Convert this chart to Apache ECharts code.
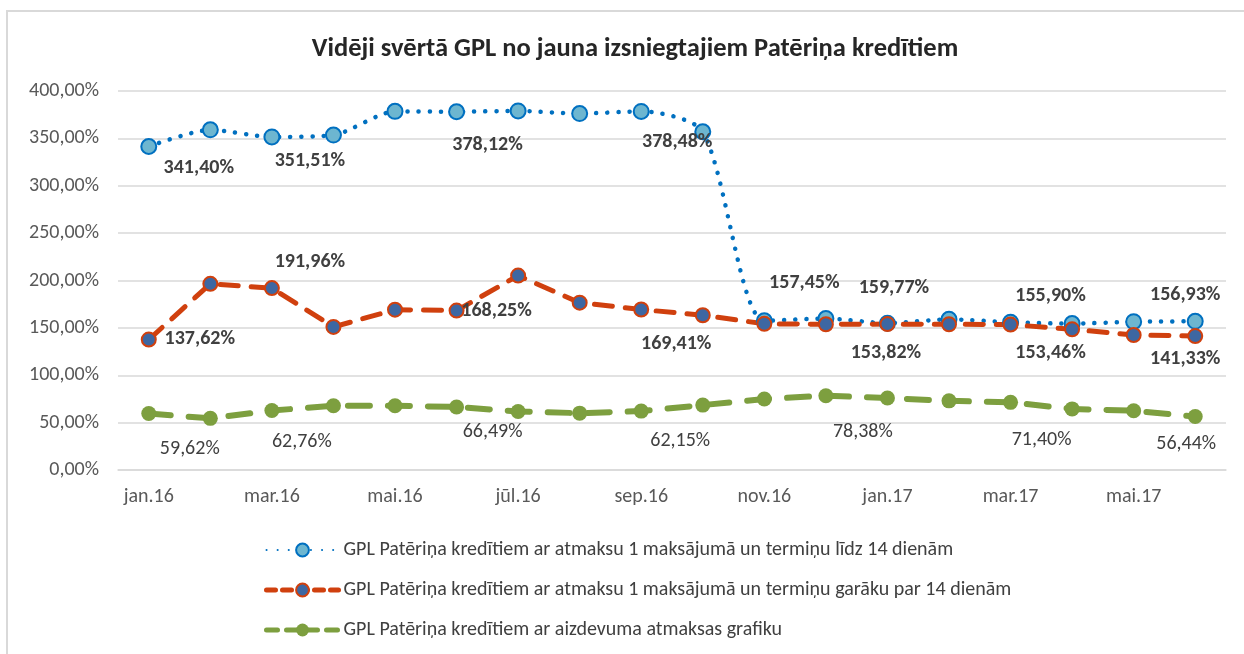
<!DOCTYPE html>
<html>
<head>
<meta charset="utf-8">
<script src="https://cdn.jsdelivr.net/npm/echarts@6/dist/echarts.min.js"></script>
<style>
  html, body { margin: 0; padding: 0; background: #fff; }
  #frame { position: absolute; left: 6px; top: 10px; width: 1240px; height: 650px;
           border-left: 2px solid #d9d9d9; border-top: 2px solid #d9d9d9; }
  #chart { position: absolute; left: 0; top: 0; width: 1244px; height: 654px; }
</style>
</head>
<body>
<div id="frame"></div>
<div id="chart"></div>
<script>
// mēneši
const months = ['jan.16', 'feb.16', 'mar.16', 'apr.16', 'mai.16', 'jūn.16', 'jūl.16', 'aug.16', 'sep.16',
  'okt.16', 'nov.16', 'dec.16', 'jan.17', 'feb.17', 'mar.17', 'apr.17', 'mai.17', 'jūn.17'];

const seriesNames = [
  'GPL Patēriņa kredītiem ar atmaksu 1 maksājumā un termiņu līdz 14 dienām',
  'GPL Patēriņa kredītiem ar atmaksu 1 maksājumā un termiņu garāku par 14 dienām',
  'GPL Patēriņa kredītiem ar aizdevuma atmaksas grafiku'
];

const shortTerm = [341.40, 359.0, 351.51, 353.5, 378.5, 378.12, 379.0, 376.2, 378.48,
  357.0, 157.45, 159.77, 155.0, 159.0, 155.90, 154.5, 156.5, 156.93];
const longTerm = [137.62, 196.5, 191.96, 151.0, 169.2, 168.25, 205.2, 176.6, 169.41,
  163.3, 154.3, 153.82, 154.0, 153.8, 153.46, 148.5, 142.5, 141.33];
const schedule = [59.62, 54.5, 62.76, 67.8, 67.8, 66.49, 61.8, 60.0, 62.15,
  68.5, 75.0, 78.38, 76.0, 73.0, 71.40, 64.5, 62.5, 56.44];

const yTicks = [0, 50, 100, 150, 200, 250, 300, 350, 400];

// kuriem punktiem ir vērtību uzraksti un to nobīde [dx, dy]
const labelOffsets = [
  { 0: [50, 21], 2: [38, 24], 5: [31, 33], 8: [36, 31], 10: [40, -38], 11: [68, -31], 14: [40, -26], 17: [-10, -26] },
  { 0: [51, -1], 2: [38, -26], 5: [40, 0], 8: [35, 35], 11: [60, 29], 14: [40, 28], 17: [-10, 23] },
  { 0: [41, 35], 2: [30, 31], 5: [36, 25], 8: [39, 30], 11: [37, 36], 14: [31, 38], 17: [-9, 27] }
];

const FONT = 'Carlito, Calibri, Lato, sans-serif';
const pct = v => v.toFixed(2).replace('.', ',') + '%';

function buildData(values, offsets, bold) {
  return values.map((v, i) => {
    if (!offsets[i]) return v;
    return {
      value: v,
      label: {
        show: true,
        position: 'inside',
        offset: offsets[i],
        formatter: p => pct(p.value),
        fontFamily: FONT,
        fontSize: 20,
        fontWeight: bold ? 'bold' : 'normal',
        color: '#404040'
      }
    };
  });
}

const chart = echarts.init(document.getElementById('chart'));
chart.setOption({
  animation: false,
  title: {
    text: 'Vidēji svērtā GPL no jauna izsniegtajiem Patēriņa kredītiem',
    left: 630,
    top: 31,
    textAlign: 'center',
    textStyle: { fontFamily: FONT, fontSize: 26.5, fontWeight: 'bold', color: '#262626' }
  },
  grid: { left: 118, right: 18, top: 91, bottom: 184 },
  legend: {
    orient: 'vertical',
    left: 259,
    top: 535,
    itemWidth: 72,
    itemHeight: 16,
    itemGap: 20,
    textStyle: { fontFamily: FONT, fontSize: 20, lineHeight: 20, color: '#404040' },
    data: [
      { name: seriesNames[0] },
      { name: seriesNames[1], lineStyle: { type: [9, 7], width: 5 } },
      { name: seriesNames[2], lineStyle: { type: [11, 9], width: 5 } }
    ]
  },
  xAxis: {
    type: 'category',
    data: months,
    boundaryGap: true,
    axisLine: { lineStyle: { color: '#d9d9d9', width: 1.5 } },
    axisTick: { interval: 1, length: 6, lineStyle: { color: '#d9d9d9', width: 1.5 } },
    axisLabel: { interval: 1, margin: 17, fontFamily: FONT, fontSize: 20, color: '#595959' }
  },
  yAxis: {
    type: 'value',
    min: yTicks[0],
    max: yTicks[yTicks.length - 1],
    interval: yTicks[1] - yTicks[0],
    axisLine: { show: false },
    axisTick: { show: false },
    splitLine: { lineStyle: { color: '#d9d9d9', width: 1.5 } },
    axisLabel: { margin: 19, fontFamily: FONT, fontSize: 20, color: '#595959', formatter: pct }
  },
  series: [
    {
      name: seriesNames[0],
      type: 'line',
      smooth: 0.25,
      data: buildData(shortTerm, labelOffsets[0], true),
      symbol: 'circle',
      symbolSize: 15,
      lineStyle: { color: '#0070C0', width: 4.5, type: [0.1, 11], cap: 'round' },
      itemStyle: { color: '#6DB6D0', borderColor: '#0070C0', borderWidth: 2 }
    },
    {
      name: seriesNames[1],
      type: 'line',
      data: buildData(longTerm, labelOffsets[1], true),
      symbol: 'circle',
      symbolSize: 14,
      lineStyle: { color: '#D0400E', width: 5, type: [18, 13], cap: 'round' },
      itemStyle: { color: '#3D67A2', borderColor: '#D0400E', borderWidth: 2 }
    },
    {
      name: seriesNames[2],
      type: 'line',
      data: buildData(schedule, labelOffsets[2], false),
      symbol: 'circle',
      symbolSize: 15,
      lineStyle: { color: '#7D9F3F', width: 6, type: [22, 18], cap: 'round' },
      itemStyle: { color: '#7D9F3F' }
    }
  ]
});
window.addEventListener('resize', () => chart.resize());
</script>
</body>
</html>
